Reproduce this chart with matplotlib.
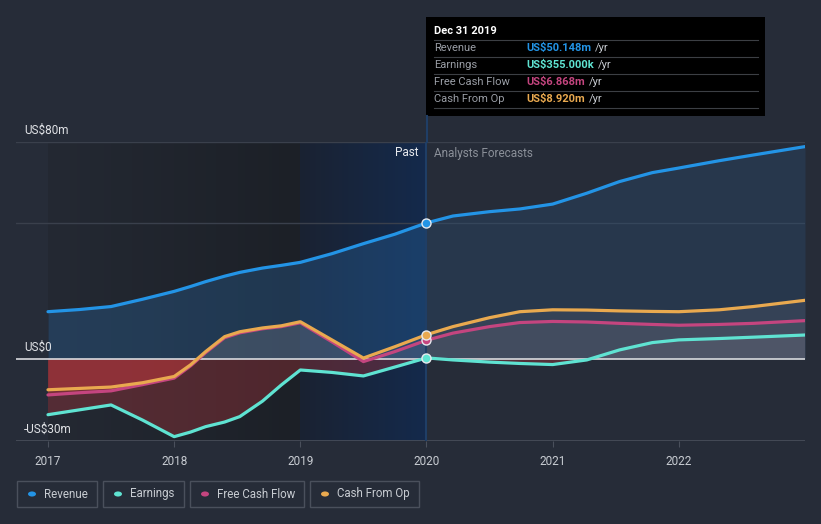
import matplotlib.pyplot as plt
import numpy as np
from matplotlib.patches import Rectangle, Circle
from matplotlib.colors import LinearSegmentedColormap

plt.rcParams['font.family'] = ['Roboto', 'DejaVu Sans']

# values in US$ m
years_past = [2017.0, 2017.25, 2017.5, 2017.75, 2018.0, 2018.13, 2018.25, 2018.4, 2018.52,
              2018.7, 2018.85, 2019.0, 2019.25, 2019.5, 2019.75, 2020.0]
revenue_past = [17.4, 18.2, 19.3, 22.0, 24.9, 26.7, 28.5, 30.5, 31.9, 33.5, 34.5, 35.6,
                38.8, 42.5, 46.0, 50.148]
earnings_past = [-20.6, -18.8, -17.0, -22.6, -28.7, -27.0, -25.0, -23.3, -21.3, -15.6,
                 -9.6, -4.1, -5.0, -6.3, -3.0, 0.355]
fcf_past = [-13.3, -12.5, -11.8, -9.5, -7.1, -2.6, 2.3, 7.8, 9.6, 11.1, 11.9, 13.3,
            6.3, -1.0, 2.7, 6.868]
cfo_past = [-11.4, -10.9, -10.4, -8.8, -6.5, -2.2, 2.7, 8.2, 10.0, 11.4, 12.2, 13.7,
            7.0, 0.3, 4.5, 8.92]

years_fc = [2020.0, 2020.21, 2020.5, 2020.74, 2021.0, 2021.27, 2021.53, 2021.79, 2022.0,
            2022.32, 2022.59, 2023.0]
revenue_fc = [50.148, 52.7, 54.3, 55.3, 57.1, 61.1, 65.4, 68.7, 70.4, 73.1, 75.2, 78.3]
earnings_fc = [0.355, -0.4, -1.2, -1.7, -2.1, -0.4, 3.3, 6.0, 7.0, 7.5, 8.0, 8.8]
fcf_fc = [6.868, 9.5, 11.9, 13.4, 13.8, 13.6, 13.1, 12.7, 12.4, 12.7, 13.1, 14.1]
cfo_fc = [8.92, 11.9, 15.2, 17.4, 18.1, 18.0, 17.7, 17.5, 17.4, 18.1, 19.3, 21.6]

tick_years = [2017, 2018, 2019, 2020, 2021, 2022]
series_names = ['Revenue', 'Earnings', 'Free Cash Flow', 'Cash From Op']
tip_values = ['US$50.148m', 'US$355.000k', 'US$6.868m', 'US$8.920m']

BG = '#262c38'
C_REV = '#2394e6'
C_EARN = '#5fe3d2'
C_FCF = '#c4457f'
C_CFO = '#e9a94f'
colors = [C_REV, C_EARN, C_FCF, C_CFO]

W, H = 821, 524
fig = plt.figure(figsize=(W / 100, H / 100), dpi=100, facecolor=BG)

def fx(px):
    return px / W

def fy(py):
    return 1 - py / H

ax_l, ax_r, ax_t, ax_b = 16, 805, 142, 441
ax = fig.add_axes([fx(ax_l), fy(ax_b), fx(ax_r - ax_l), fy(ax_t) - fy(ax_b)])
ax.set_facecolor(BG)
ymin, ymax = -30.3, 80
xmin = 2017 - (48 - 16) / 126.2
for s in ax.spines.values():
    s.set_visible(False)

# past shading gradients
dark = LinearSegmentedColormap.from_list('d', ['#242933', '#1c2027'])
blue = LinearSegmentedColormap.from_list('b', ['#1a2232', '#142a4c'])
grad = np.linspace(0, 1, 256).reshape(1, -1)
ax.imshow(grad, cmap=dark, extent=[2017, 2019, ymin, ymax], aspect='auto', zorder=0)
ax.imshow(grad, cmap=blue, extent=[2019, 2020, ymin, ymax], aspect='auto', zorder=0)
ax.set_xlim(xmin, 2023.0)
ax.set_ylim(ymin, ymax)

# grid lines
for gy in [80, 50]:
    ax.axhline(gy, color='#3a404c', lw=1, zorder=1)
ax.axhline(ymin + 0.15, color='#4a505c', lw=1.2, zorder=1)

yrs = np.array(years_past + years_fc[1:])
rev = np.array(revenue_past + revenue_fc[1:])
earn = np.array(earnings_past + earnings_fc[1:])
fcf = np.array(fcf_past + fcf_fc[1:])
cfo = np.array(cfo_past + cfo_fc[1:])

# fills
ax.fill_between(years_past, revenue_past, 0, color='#2a6fb0', alpha=0.30, lw=0, zorder=2)
ax.fill_between(years_fc, revenue_fc, 0, color='#2a5a8a', alpha=0.25, lw=0, zorder=2)
for vals in [earn, fcf, cfo]:
    ax.fill_between(yrs, vals, 0, where=vals < 0, interpolate=True,
                    color='#c8383d', alpha=0.30, lw=0, zorder=2)
    ax.fill_between(yrs, vals, 0, where=vals >= 0, interpolate=True,
                    color='#b8a8b0', alpha=0.10, lw=0, zorder=2)

ax.axhline(0, color='#d8dade', lw=1.2, zorder=3)

# lines
for vals, c in zip([rev, earn, fcf, cfo], colors):
    ax.plot(yrs, vals, color=c, lw=2.3, solid_capstyle='round',
            solid_joinstyle='round', zorder=4)

# markers at Dec 2019
ax.axvline(2020, color='#1f3e66', lw=1.5, zorder=3)
for v, c in zip([revenue_past[-1], earnings_past[-1], fcf_past[-1], cfo_past[-1]], colors):
    ax.plot([2020], [v], 'o', ms=6.5, mfc=c, mec='#e8eaee', mew=1, zorder=5)

# ticks
ax.set_xticks(tick_years)
ax.set_xticklabels([str(t) for t in tick_years], color='#c8ccd2', fontsize=8.5)
ax.tick_params(axis='x', length=4, color='#4a505c', pad=6)
ax.set_yticks([])

# y labels
for txt, py in [('US$80m', 130), ('US$0', 347), ('-US$30m', 429)]:
    fig.text(fx(24), fy(py), txt, color='#e0e2e6', fontsize=8.5, va='center', ha='left')

fig.text(fx(418), fy(153), 'Past', color='#e8eaee', fontsize=8.5, va='center', ha='right')
fig.text(fx(434), fy(153), 'Analysts Forecasts', color='#8b9099', fontsize=8.5,
         va='center', ha='left')

# vertical line up to tooltip
fig.add_artist(plt.Line2D([fx(427), fx(427)], [fy(116), fy(142)], color='#1f3e66', lw=1.5))

# tooltip
fig.add_artist(Rectangle((fx(426), fy(116)), fx(765 - 426), fy(17) - fy(116),
                         facecolor='black', edgecolor='none'))
fig.text(fx(434), fy(31), 'Dec 31 2019', color='white', fontsize=8, fontweight='bold',
         va='center')
for i in range(5):
    ly = 40 + i * 17
    fig.add_artist(plt.Line2D([fx(434), fx(758)], [fy(ly), fy(ly)], color='#3c3f44', lw=0.8))
for i, (name, val, c) in enumerate(zip(series_names, tip_values, colors)):
    ry = 48 + i * 17
    fig.text(fx(434), fy(ry), name, color='#9a9ea6', fontsize=8, va='center')
    t = fig.text(fx(526), fy(ry), val, color=c, fontsize=8, fontweight='bold', va='center')
    fig.canvas.draw()
    bb = t.get_window_extent()
    fig.text(bb.x1 / W + fx(4), fy(ry), '/yr', color='#c8ccd2', fontsize=8, va='center')

# legend boxes
boxes = [(17, 97), (103, 184), (190, 304), (310, 419)]
for (x0, x1), name, c in zip(boxes, series_names, colors):
    fig.add_artist(Rectangle((fx(x0), fy(507)), fx(x1 - x0), fy(481) - fy(507),
                             facecolor='none', edgecolor='#4a505c', lw=1))
    fig.add_artist(Circle((fx(x0 + 15), fy(494)), 4 / W, facecolor=c, edgecolor='none',
                          transform=fig.transFigure))
    fig.text(fx(x0 + 27), fy(494), name, color='#c8ccd2', fontsize=8.3, va='center')

fig.savefig('out.png', dpi=100, facecolor=BG)
